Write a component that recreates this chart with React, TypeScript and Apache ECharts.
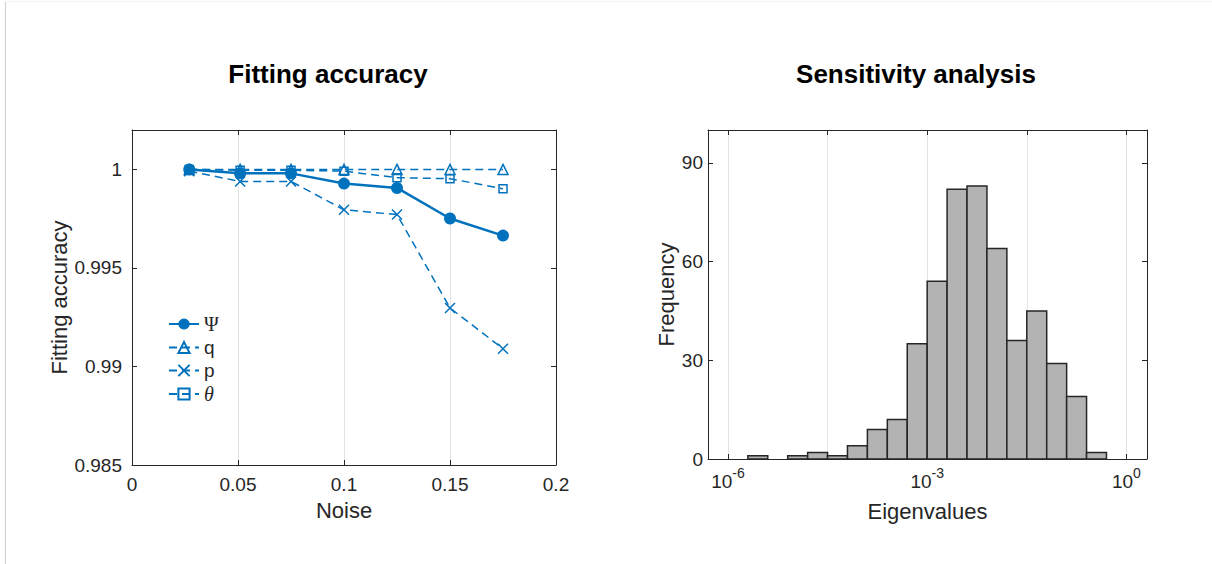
import React, { useEffect, useRef } from 'react';
import * as echarts from 'echarts';

// ---- Fitting accuracy data ----
const noise = [0.027, 0.051, 0.075, 0.1, 0.125, 0.15, 0.175];
const psiAcc = [1.0, 0.9998, 0.9998, 0.99928, 0.99906, 0.99751, 0.99664];
const qAcc = [0.99999, 1.0, 1.0, 1.0, 1.0, 1.0, 1.0];
const pAcc = [0.99991, 0.99939, 0.99939, 0.99795, 0.99771, 0.99297, 0.9909];
const thetaAcc = [1.0, 0.99996, 0.99996, 0.99991, 0.99958, 0.99953, 0.99902];
const seriesNames = ['Ψ', 'q', 'p', 'θ'];

// ---- Sensitivity analysis histogram (log10 eigenvalue bins) ----
const binLeftExp = [-5.7, -5.4, -5.1, -4.8, -4.5, -4.2, -3.9, -3.6, -3.3, -3.0, -2.7, -2.4, -2.1, -1.8, -1.5, -1.2, -0.9, -0.6];
const binRightExp = [-5.4, -5.1, -4.8, -4.5, -4.2, -3.9, -3.6, -3.3, -3.0, -2.7, -2.4, -2.1, -1.8, -1.5, -1.2, -0.9, -0.6, -0.3];
const binCounts = [1, 0, 1, 2, 1, 4, 9, 12, 35, 54, 82, 83, 64, 36, 45, 29, 19, 2];
const logTickExp = [-6, -4.5, -3, -1.5, 0];
const logLabelExp = [-6, -3, 0];

const BLUE = '#0072BD';
const AX = '#262626';
const GRIDC = '#e2e2e2';
const FONT = '"Liberation Sans", Arial, Helvetica, sans-serif';

export default function App() {
  const ref = useRef<HTMLDivElement>(null);
  useEffect(() => {
    if (!ref.current) return;
    const chart = echarts.init(ref.current, undefined, { renderer: 'svg' });

    const axisLine = { show: true, onZero: false, lineStyle: { color: AX, width: 1 } };
    const tick = { show: true, inside: true, length: 5, lineStyle: { color: AX, width: 1 } };
    const lbl = { fontSize: 19, color: AX, fontFamily: FONT };
    const nameStyle = { fontSize: 22, color: AX, fontFamily: FONT };

    const lineSeries = (name: string, vals: number[], opts: any) => ({
      type: 'line',
      name,
      xAxisIndex: 0,
      yAxisIndex: 0,
      data: noise.map((x, i) => [x, vals[i]]),
      showSymbol: true,
      ...opts,
    });

    const option: any = {
      animation: false,
      backgroundColor: '#fff',
      textStyle: { fontFamily: FONT },
      graphic: [
        { type: 'line', shape: { x1: 5.5, y1: 2, x2: 5.5, y2: 564 }, style: { stroke: '#cfcfcf', lineWidth: 1 } },
        { type: 'line', shape: { x1: 5, y1: 1.5, x2: 1212, y2: 1.5 }, style: { stroke: '#f3f3f3', lineWidth: 1 } },
        { type: 'text', x: 328, y: 74, style: { text: 'Fitting accuracy', font: `bold 26px ${FONT}`, fill: '#000', textAlign: 'center', textVerticalAlign: 'middle' } },
        { type: 'text', x: 916, y: 74, style: { text: 'Sensitivity analysis', font: `bold 26px ${FONT}`, fill: '#000', textAlign: 'center', textVerticalAlign: 'middle' } },
      ],
      grid: [
        { left: 132, top: 130, width: 424, height: 335 },
        { left: 708, top: 130, width: 439, height: 329 },
      ],
      legend: {
        orient: 'vertical',
        left: 168,
        top: 314,
        padding: 0,
        itemWidth: 30,
        itemHeight: 14,
        itemGap: 4,
        data: seriesNames,
        formatter: (n: string) => (n === 'Ψ' ? '{psi|Ψ}' : n === 'θ' ? '{th|θ}' : n),
        textStyle: {
          fontSize: 19,
          color: AX,
          fontFamily: FONT,
          rich: {
            psi: { fontSize: 20, color: AX, fontFamily: '"Liberation Serif", serif' },
            th: { fontSize: 20, color: AX, fontFamily: '"Liberation Serif", serif', fontStyle: 'italic' },
          },
        },
      },
      xAxis: [
        {
          gridIndex: 0, type: 'value', min: 0, max: 0.2, interval: 0.05, position: 'bottom',
          axisLine, axisTick: tick, axisLabel: { ...lbl, margin: 10 },
          splitLine: { show: true, lineStyle: { color: GRIDC, width: 1 } },
          name: 'Noise', nameLocation: 'middle', nameGap: 34, nameTextStyle: nameStyle,
        },
        {
          gridIndex: 0, type: 'value', min: 0, max: 0.2, interval: 0.05, position: 'top',
          axisLine, axisTick: tick, axisLabel: { show: false }, splitLine: { show: false },
        },
        {
          gridIndex: 1, type: 'value', min: -6.3, max: 0.31, position: 'bottom',
          axisLine,
          axisTick: { ...tick, customValues: logTickExp },
          axisLabel: {
            customValues: logLabelExp,
            margin: 10,
            formatter: (v: number) => `{b|10}{s|${Math.round(v)}}`,
            rich: {
              b: { fontSize: 19, color: AX, fontFamily: FONT, lineHeight: 22, verticalAlign: 'bottom' },
              s: { fontSize: 14, color: AX, fontFamily: FONT, lineHeight: 16, padding: [0, 0, 11, 0], verticalAlign: 'bottom' },
            },
          },
          splitLine: { show: true, lineStyle: { color: GRIDC, width: 1 } },
          name: 'Eigenvalues', nameLocation: 'middle', nameGap: 41, nameTextStyle: nameStyle,
        },
        {
          gridIndex: 1, type: 'value', min: -6.3, max: 0.31, position: 'top',
          axisLine, axisTick: { ...tick, customValues: logTickExp }, axisLabel: { show: false }, splitLine: { show: false },
        },
      ],
      yAxis: [
        {
          gridIndex: 0, type: 'value', min: 0.985, max: 1.002, interval: 0.005, position: 'left',
          axisLine, axisTick: tick, axisLabel: { ...lbl, margin: 10, showMaxLabel: false },
          splitLine: { show: false },
          name: 'Fitting accuracy', nameLocation: 'middle', nameGap: 58, nameTextStyle: nameStyle,
        },
        {
          gridIndex: 0, type: 'value', min: 0.985, max: 1.002, interval: 0.005, position: 'right',
          axisLine, axisTick: tick, axisLabel: { show: false }, splitLine: { show: false },
        },
        {
          gridIndex: 1, type: 'value', min: 0, max: 100, interval: 30, position: 'left',
          axisLine, axisTick: tick, axisLabel: { ...lbl, margin: 5, showMaxLabel: false },
          splitLine: { show: false },
          name: 'Frequency', nameLocation: 'middle', nameGap: 31, nameTextStyle: nameStyle,
        },
        {
          gridIndex: 1, type: 'value', min: 0, max: 100, interval: 30, position: 'right',
          axisLine, axisTick: tick, axisLabel: { show: false }, splitLine: { show: false },
        },
      ],
      series: [
        lineSeries('Ψ', psiAcc, {
          symbol: 'circle', symbolSize: 12,
          lineStyle: { color: BLUE, width: 2.5, type: 'solid' },
          itemStyle: { color: BLUE },
        }),
        lineSeries('q', qAcc, {
          symbol: 'triangle', symbolSize: 10,
          lineStyle: { color: BLUE, width: 1.5, type: [8, 5] },
          itemStyle: { color: 'none', borderColor: BLUE, borderWidth: 1.5 },
        }),
        lineSeries('p', pAcc, {
          symbol: 'path://M0,0L10,10M10,0L0,10', symbolSize: 10,
          lineStyle: { color: BLUE, width: 1.5, type: [8, 5] },
          itemStyle: { color: 'none', borderColor: BLUE, borderWidth: 1.5 },
        }),
        lineSeries('θ', thetaAcc, {
          symbol: 'rect', symbolSize: 8,
          lineStyle: { color: BLUE, width: 1.5, type: [8, 5] },
          itemStyle: { color: 'none', borderColor: BLUE, borderWidth: 1.5 },
        }),
        {
          type: 'custom',
          name: 'hist',
          xAxisIndex: 2,
          yAxisIndex: 2,
          data: binLeftExp.map((l, i) => [l, binRightExp[i], binCounts[i]]),
          encode: { x: [0, 1], y: 2 },
          renderItem: (params: any, api: any) => {
            const lo = api.value(0);
            const hi = api.value(1);
            const c = api.value(2);
            if (!c) return null;
            const p0 = api.coord([lo, c]);
            const p1 = api.coord([hi, 0]);
            return {
              type: 'rect',
              shape: { x: p0[0], y: p0[1], width: p1[0] - p0[0], height: p1[1] - p0[1] },
              style: { fill: '#b3b3b3', stroke: AX, lineWidth: 1.5 },
            };
          },
        },
      ],
    };

    chart.setOption(option);
    return () => chart.dispose();
  }, []);

  return (
    <div
      ref={ref}
      style={{ position: 'fixed', left: 0, top: 0, width: 1212, height: 564, background: '#fff' }}
    />
  );
}
